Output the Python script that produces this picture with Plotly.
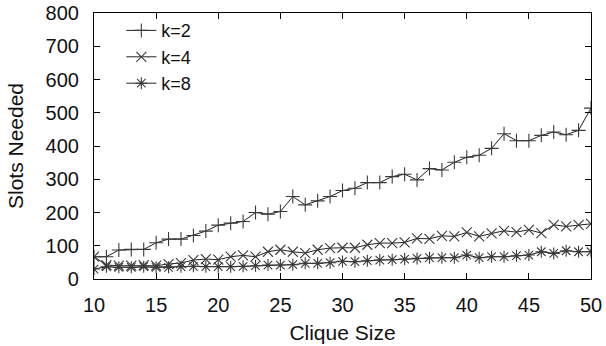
import plotly.graph_objects as go

clique_size = list(range(10, 51))

k2 = [67, 67, 87, 89, 89, 109, 120, 120, 131, 144,
      162, 168, 173, 200, 195, 203, 248, 223, 235, 248,
      266, 273, 290, 290, 308, 315, 298, 332, 328, 351,
      366, 372, 393, 437, 416, 416, 432, 442, 434, 447, 514]

k4 = [67, 42, 40, 40, 42, 40, 45, 48, 57, 60,
      58, 67, 71, 67, 82, 88, 82, 78, 88, 93,
      94, 94, 103, 108, 108, 110, 122, 121, 130, 128,
      140, 128, 137, 145, 141, 148, 138, 163, 158, 163, 166]

k8 = [30, 37, 35, 35, 37, 35, 35, 37, 38, 37,
      37, 37, 38, 40, 42, 42, 43, 47, 47, 49,
      53, 52, 55, 57, 58, 60, 62, 64, 64, 64,
      72, 64, 67, 67, 70, 72, 82, 77, 85, 82, 82]

series_names = ["k=2", "k=4", "k=8"]
series_values = [k2, k4, k8]
symbols = ["cross-thin-open", "x-thin-open", "asterisk-open"]

x_ticks = [10, 15, 20, 25, 30, 35, 40, 45, 50]
y_ticks = [0, 100, 200, 300, 400, 500, 600, 700, 800]

FONT = "Liberation Sans, Arial, Helvetica, sans-serif"

fig = go.Figure()
for name, vals, sym in zip(series_names, series_values, symbols):
    fig.add_trace(go.Scatter(
        x=clique_size, y=vals, name=name, mode="lines+markers",
        line=dict(color="#222222", width=1),
        marker=dict(symbol=sym, size=10, color="#3a3a3a",
                    line=dict(color="#3a3a3a", width=1.1)),
    ))

axis_common = dict(
    showline=True, linecolor="black", linewidth=1.2, mirror="ticks",
    ticks="inside", ticklen=6, tickwidth=1, tickcolor="black",
    showgrid=False, zeroline=False, automargin=False,
    tickfont=dict(family=FONT, size=20, color="#111111"),
)

fig.update_layout(
    width=606, height=346,
    margin=dict(l=94, r=15, t=13, b=67, autoexpand=False),
    paper_bgcolor="white", plot_bgcolor="white",
    font=dict(family=FONT, size=20, color="#111111"),
    showlegend=True,
    legend=dict(x=0.055, y=1.003, xanchor="left", yanchor="top",
                bgcolor="rgba(0,0,0,0)", font=dict(family=FONT, size=18),
                itemwidth=30, tracegroupgap=0),
    xaxis=dict(range=[10, 50], tickvals=x_ticks,
               title=dict(text="Clique Size", font=dict(family=FONT, size=21), standoff=10),
               ticklabelstandoff=8, **axis_common),
    yaxis=dict(range=[0, 800], tickvals=y_ticks,
               title=dict(text="Slots Needed", font=dict(family=FONT, size=21), standoff=16),
               ticklabelstandoff=10, **axis_common),
)

fig.write_html("out.html",
               config={"displayModeBar": False},
               post_script="document.body.style.margin='0';document.body.style.padding='0';")
